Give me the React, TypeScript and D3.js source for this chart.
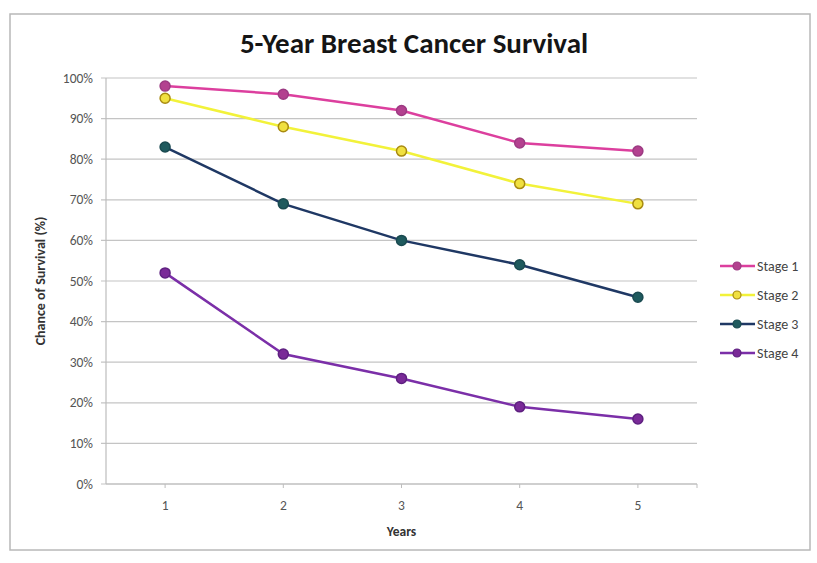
import React from "react";
import * as d3 from "d3";

const years = ["1", "2", "3", "4", "5"];
const yTicks = [0, 10, 20, 30, 40, 50, 60, 70, 80, 90, 100];
const stage1 = [98, 96, 92, 84, 82];
const stage2 = [95, 88, 82, 74, 69];
const stage3 = [83, 69, 60, 54, 46];
const stage4 = [52, 32, 26, 19, 16];
const seriesNames = ["Stage 1", "Stage 2", "Stage 3", "Stage 4"];

const styles = [
  { line: "#dc3f9e", fill: "#b3418f", stroke: "#9c3a82" },
  { line: "#f2f23a", fill: "#f0e040", stroke: "#a88a10" },
  { line: "#1f3864", fill: "#1f5a5e", stroke: "#1a4a50" },
  { line: "#7b2fa8", fill: "#7a2a98", stroke: "#5e2080" },
];

export default function App() {
  const W = 817, H = 563;
  const left = 106, right = 697, top = 78, bottom = 484;
  const x = d3.scaleBand().domain(years).range([left, right]);
  const y = d3.scaleLinear().domain([0, 100]).range([bottom, top]);
  const cx = (d: string) => (x(d) as number) + x.bandwidth() / 2;
  const all = [stage1, stage2, stage3, stage4];
  const line = d3
    .line<number>()
    .x((_, i) => cx(years[i]))
    .y((v) => y(v));
  const font = "Carlito, Calibri, 'Open Sans', Lato, sans-serif";

  return (
    <svg width={W} height={H} style={{ position: "absolute", left: 0, top: 0 }} fontFamily={font}>
      <rect x={0} y={0} width={W} height={H} fill="#fff" />
      <rect x={10} y={14} width={800} height={536} fill="#fff" stroke="#b8b8b8" strokeWidth={1.5} />
      <text x={414} y={53} textAnchor="middle" fontSize={29} fontWeight="bold" fill="#151515">
        5-Year Breast Cancer Survival
      </text>
      {yTicks.map((t) => (
        <g key={t}>
          <line x1={left - 5} x2={right} y1={y(t)} y2={y(t)} stroke="#c4c4c4" strokeWidth={1.2} />
          <text x={left - 13} y={y(t) + 4.5} textAnchor="end" fontSize={13.5} fill="#555">
            {t}%
          </text>
        </g>
      ))}
      <line x1={left} x2={left} y1={top} y2={bottom} stroke="#bdbdbd" strokeWidth={1.2} />
      <line x1={left} x2={right} y1={bottom} y2={bottom} stroke="#bdbdbd" strokeWidth={1.2} />
      {years.map((yr) => (
        <g key={yr}>
          <line x1={cx(yr)} x2={cx(yr)} y1={bottom} y2={bottom + 4} stroke="#bdbdbd" />
          <text x={cx(yr)} y={bottom + 26} textAnchor="middle" fontSize={13.5} fill="#555">
            {yr}
          </text>
        </g>
      ))}
      <line x1={right} x2={right} y1={bottom} y2={bottom + 4} stroke="#bdbdbd" />
      <text x={(left + right) / 2} y={536} textAnchor="middle" fontSize={13.5} fontWeight="bold" fill="#333">
        Years
      </text>
      <text
        transform={`translate(45,${(top + bottom) / 2}) rotate(-90)`}
        textAnchor="middle"
        fontSize={14}
        fontWeight="bold"
        fill="#333"
      >
        Chance of Survival (%)
      </text>
      {all.map((s, i) => (
        <g key={i}>
          <path d={line(s) || ""} fill="none" stroke={styles[i].line} strokeWidth={2.5} />
          {s.map((v, j) => (
            <circle key={j} cx={cx(years[j])} cy={y(v)} r={5} fill={styles[i].fill} stroke={styles[i].stroke} strokeWidth={1.5} />
          ))}
        </g>
      ))}
      {seriesNames.map((n, i) => {
        const ly = 266 + i * 29;
        return (
          <g key={n}>
            <line x1={720} x2={755} y1={ly} y2={ly} stroke={styles[i].line} strokeWidth={2.5} />
            <circle cx={737} cy={ly} r={4} fill={styles[i].fill} stroke={styles[i].stroke} strokeWidth={1.2} />
            <text x={757} y={ly + 5} fontSize={14} fill="#444">
              {n}
            </text>
          </g>
        );
      })}
    </svg>
  );
}
